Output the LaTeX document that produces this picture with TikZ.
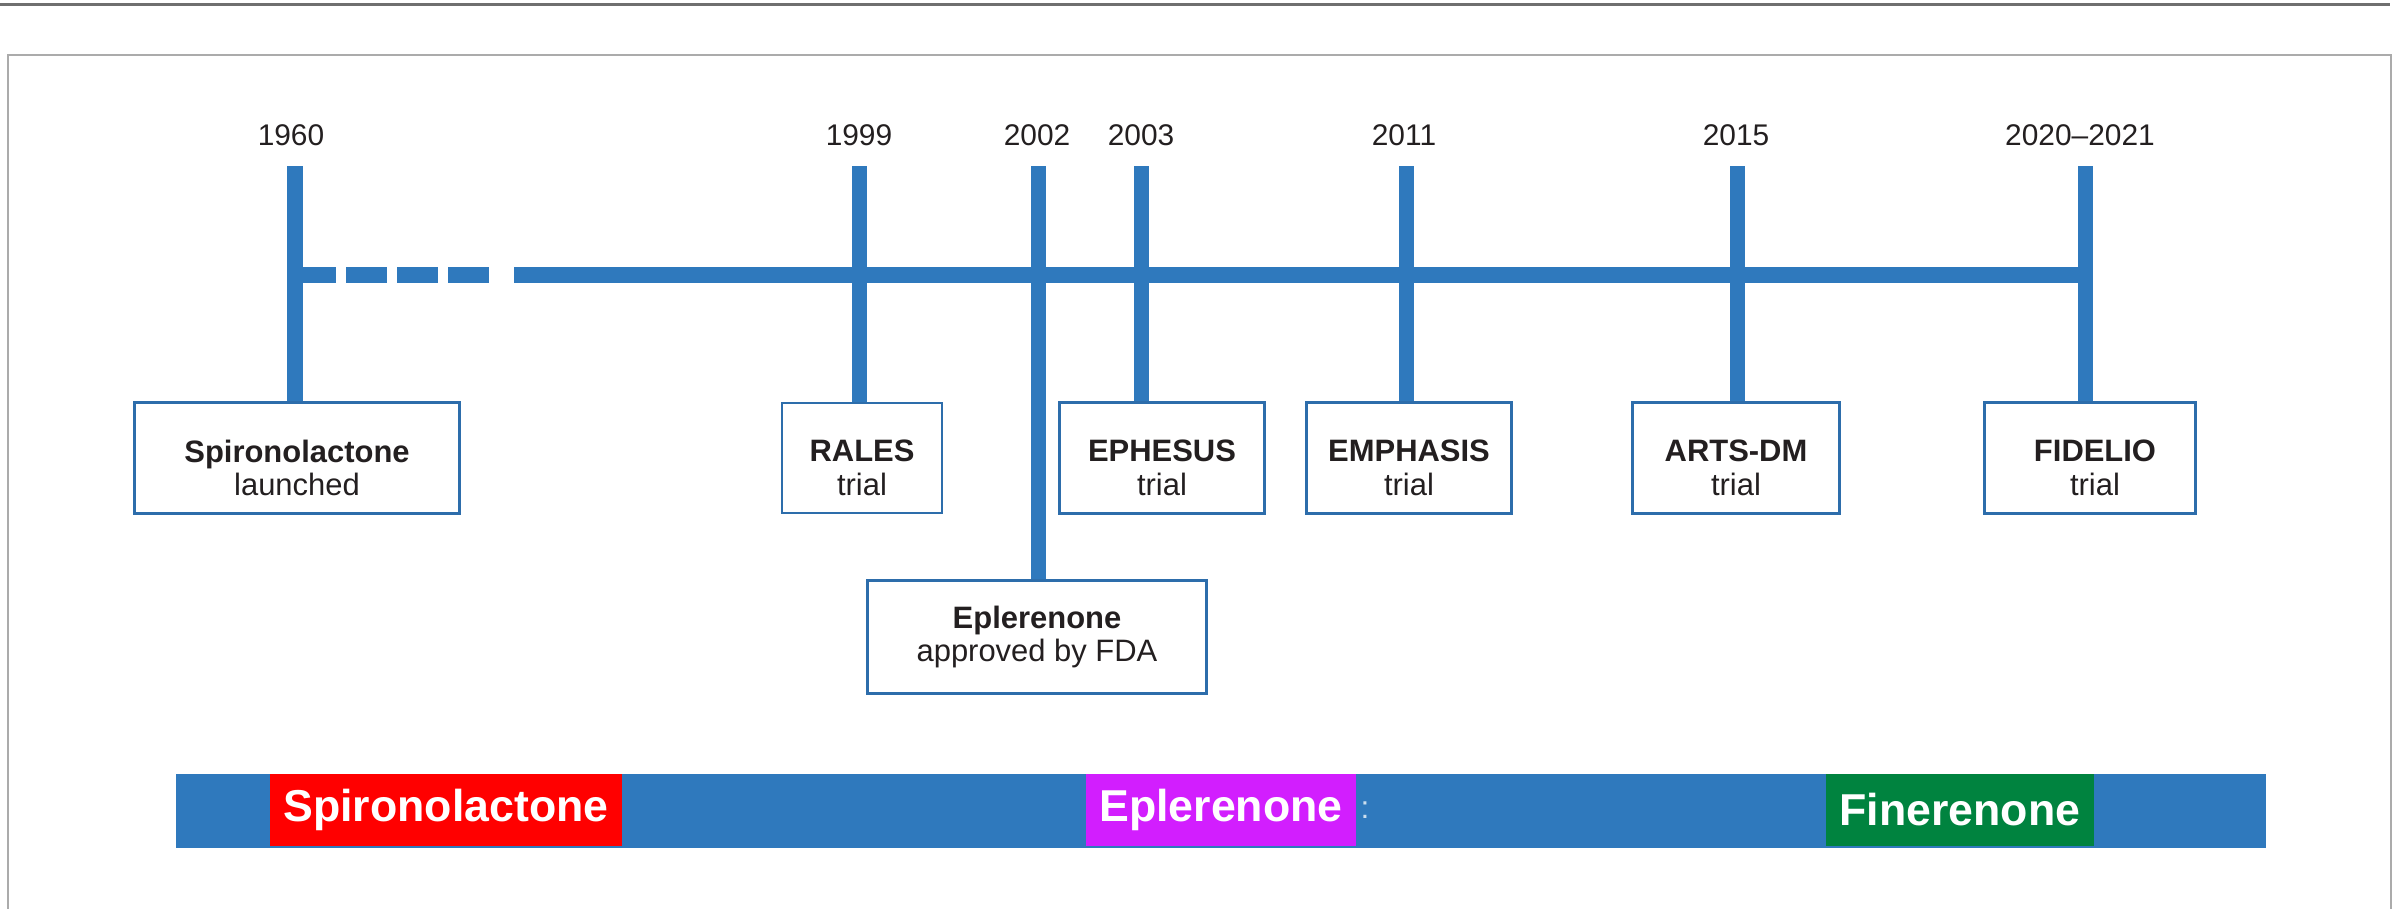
\documentclass[tikz,border=0pt]{standalone}
\usepackage{fontspec}
\setmainfont{Liberation Sans}
\usepackage{tikz}
\usetikzlibrary{positioning}

\definecolor{tlblue}{HTML}{2F79BD}
\definecolor{boxblue}{HTML}{2D6DAB}
\definecolor{spirored}{HTML}{FF0000}
\definecolor{eplemag}{HTML}{D21EFE}
\definecolor{finegreen}{HTML}{00833F}
\definecolor{framegray}{HTML}{ABABAB}
\definecolor{rulegray}{HTML}{6F6F6F}
\definecolor{inkgray}{HTML}{231F20}

\begin{document}
\begin{tikzpicture}[
    x=0.01cm, y=-0.01cm,
    yearlabel/.style={
        inner sep=0pt,
        text=inkgray,
        font=\fontsize{8.5}{10}\selectfont},
    eventbox/.style={
        rectangle,
        draw=boxblue,
        line width=0.03cm,
        fill=white,
        inner sep=0pt,
        minimum height=1.1cm},
    thinbox/.style={eventbox, line width=0.015cm},
    boxtext/.style={
        inner sep=0pt,
        align=center,
        text=inkgray,
        font=\fontsize{8.8}{9.6}\selectfont},
    tick/.style={-, draw=tlblue, line width=0.15cm},
    axisline/.style={-, draw=tlblue, line width=0.16cm},
    axisdash/.style={axisline, dash pattern=on 0.41cm off 0.1cm},
    drugband/.style={
        rectangle,
        fill=tlblue,
        inner sep=0pt,
        minimum height=0.73cm},
    druglabel/.style={
        rectangle,
        inner sep=0pt,
        minimum height=0.72cm,
        text=white,
        font=\fontsize{12.7}{14}\selectfont\bfseries}
]
\useasboundingbox (0,0) rectangle (2405,908);

% page rule and panel frame
\draw[rulegray, line width=0.03cm] (0,4) -- (2390,4);
\draw[framegray, line width=0.02cm] (8,930) -- (8,55) -- (2391,55) -- (2391,930);

\foreach \yr/\x/\lx/\txt in {1960/295/291/1960, 1999/859/859/1999, 2002/1038/1037/2002,
    2003/1141/1141/2003, 2011/1406/1404/2011, 2015/1737/1736/2015, 2020/2085/2080/2020\textendash2021}{
    \coordinate (t\yr) at (\x,166);
    \node[yearlabel] (y\yr) at (\lx,135) {\txt};
}

% events
\node[eventbox, minimum width=3.25cm] (b1960) at (297,458) {};
\node[thinbox, minimum width=1.6cm] (b1999) at (862,458) {};
\node[eventbox, minimum width=2.05cm] (b2003) at (1162,458) {};
\node[eventbox, minimum width=2.05cm] (b2011) at (1409,458) {};
\node[eventbox, minimum width=2.07cm] (b2015) at (1736,458) {};
\node[eventbox, minimum width=2.11cm] (b2020) at (2090,458) {};
\node[eventbox, minimum width=3.39cm, minimum height=1.12cm] (b2002) at (1037,637) {};

\node[boxtext] (l1960) at ([yshift=-0.1cm]b1960.center) {\textbf{Spironolactone}\\launched};
\node[boxtext] (l1999) at ([yshift=-0.1cm]b1999.center) {\textbf{RALES}\\trial};
\node[boxtext] (l2003) at ([yshift=-0.1cm]b2003.center) {\textbf{EPHESUS}\\trial};
\node[boxtext] (l2011) at ([yshift=-0.1cm]b2011.center) {\textbf{EMPHASIS}\\trial};
\node[boxtext] (l2015) at ([yshift=-0.1cm]b2015.center) {\textbf{ARTS-DM}\\trial};
\node[boxtext] (l2020) at ([xshift=0.05cm, yshift=-0.1cm]b2020.center) {\textbf{FIDELIO}\\trial};
\node[boxtext] (l2002) at (b2002.center) {\textbf{Eplerenone}\\approved by FDA};

% time axis
\coordinate (a1960) at (295,275);
\coordinate (gapL) at (489,275);
\coordinate (gapR) at (514,275);
\coordinate (a2020) at (2085,275);
\draw[axisdash] (a1960) -- (gapL);
\draw[axisline] (gapR) -- (a2020);

\path
    (t1960) edge[tick] (t1960 |- b1960.north)
    (t1999) edge[tick] (t1999 |- b1999.north)
    (t2002) edge[tick] (t2002 |- b2002.north)
    (t2003) edge[tick] (t2003 |- b2003.north)
    (t2011) edge[tick] (t2011 |- b2011.north)
    (t2015) edge[tick] (t2015 |- b2015.north)
    (t2020) edge[tick] (t2020 |- b2020.north);

% drug band
\node[drugband, minimum width=20.88cm] (band) at (1221,811) {};
\node[druglabel, fill=spirored, minimum width=3.51cm] (spiro) at (446,810) {Spironolactone};
\node[druglabel, fill=eplemag, minimum width=2.69cm] (eple) at (1221,810) {Eplerenone};
\node[druglabel, fill=finegreen, minimum width=2.68cm] (fine) at (1960,810) {Finerenone};
\node[inner sep=0pt, right=1pt of eple, text=white!75!tlblue,
    font=\fontsize{9}{10}\selectfont] (eplestub) {:};

\end{tikzpicture}
\end{document}
